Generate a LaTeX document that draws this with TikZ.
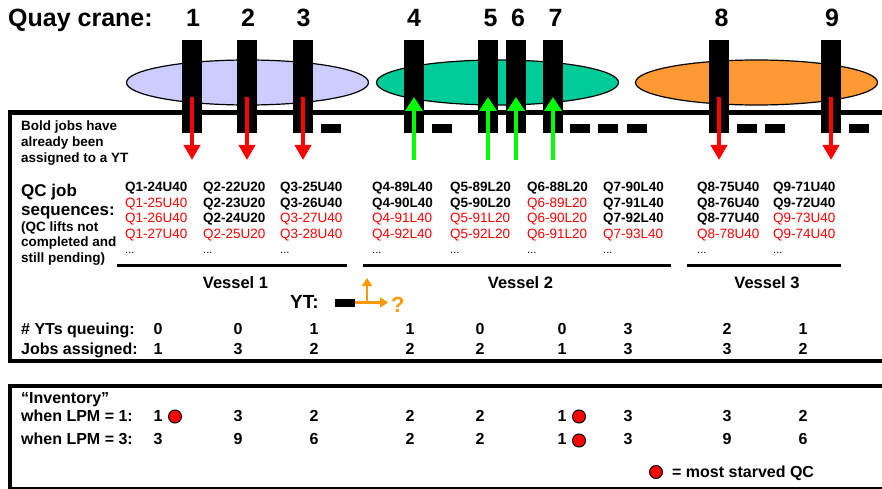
\documentclass[tikz,border=0pt]{standalone}
\usepackage{fontspec}
\setmainfont{Liberation Sans}
\usetikzlibrary{arrows.meta,shapes.geometric}
\definecolor{vlav}{HTML}{CCCCFF}
\definecolor{vgreen}{HTML}{00CC99}
\definecolor{vorange}{HTML}{FF9933}
\definecolor{ytorange}{HTML}{FF9900}
\definecolor{arrred}{HTML}{FF0000}
\definecolor{arrgreen}{HTML}{00FF00}
\newcommand\fsz[1]{\fontsize{#1}{#1}\selectfont}
\begin{document}
\begin{tikzpicture}[x=1pt,y=-1pt,
  lbl/.style={anchor=base west, inner sep=0pt, font=\bfseries\fsz{16}},
  num/.style={anchor=base, inner sep=0pt, font=\bfseries\fsz{16}},
  cnum/.style={anchor=base, inner sep=0pt, font=\bfseries\fsz{25}},
  jb/.style={anchor=base west, inner sep=0pt, font=\bfseries\fsz{13.5}},
  jr/.style={anchor=base west, inner sep=0pt, font=\fsz{13.5}, text=arrred},
  jdots/.style={anchor=base west, inner sep=0pt, font=\fsz{11}},
  note/.style={anchor=base west, inner sep=0pt, font=\bfseries\fsz{13.5}},
  vlbl/.style={anchor=base, inner sep=0pt, font=\bfseries\fsz{16.5}},
  bar/.style={fill=black, minimum width=20pt, minimum height=93pt, inner sep=0pt},
  slot/.style={fill=black, minimum width=20pt, minimum height=9pt, inner sep=0pt},
  ship/.style={ellipse, draw=black, line width=1.2pt, minimum width=242pt, minimum height=45pt, inner sep=0pt},
  redarr/.style={draw=arrred, line width=4.5pt, -{Triangle[width=16pt,length=15pt]}},
  grnarr/.style={draw=arrgreen, line width=4.8pt, -{Triangle[width=17pt,length=14pt]}},
  orarr/.style={draw=ytorange, line width=2.5pt, -{Triangle[width=10pt,length=8pt]}},
  frame/.style={line width=4pt},
  dot/.style={circle, draw=black, line width=1pt, fill=arrred, minimum size=13pt, inner sep=0pt}
]
\useasboundingbox (0,0) rectangle (882,489);

% title
\node[anchor=base west, inner sep=0pt, font=\bfseries\fsz{25}] (title) at (8,27) {Quay crane:};
\foreach \n/\x in {1/193,2/248,3/303.5,4/414,5/490.5,6/518,7/555.5,8/721.5,9/832}
  \node[cnum] (n\n) at (\x,27) {\n};

% vessels
\node[ship, fill=vlav] (v1) at (247.5,82.5) {};
\node[ship, fill=vgreen] (v2) at (497.5,82.5) {};
\node[ship, fill=vorange] (v3) at (756.5,82.5) {};

% frames
\draw[line width=4.5pt] (8,112.5) -- (882,112.5);
\draw[frame] (9.5,112.5) -- (9.5,361);
\draw[frame] (8,361) -- (882,361);
\draw[frame] (8,386) -- (882,386);
\draw[frame] (9.5,386) -- (9.5,488);
\draw[line width=1.2pt] (8,488) -- (882,488);

% crane bars
\foreach \n/\x in {1/192,2/247,3/303,4/414,5/488,6/516,7/553,8/719,9/831}{
  \node[bar] (c\n) at (\x,86.5) {};
  \coordinate (c\n top) at (\x,97);
  \coordinate (c\n bot) at (\x,160);
}
% slots
\foreach \i/\x in {1/331,2/442,3/580,4/608,5/637,6/747,7/775,8/859}
  \node[slot] (s\i) at (\x,128.5) {};

% arrows
\foreach \n in {1,2,3,8,9} \draw[redarr] (c\n top) -- (c\n bot);
\foreach \n in {4,5,6,7} \draw[grnarr] (c\n bot) -- (c\n top);

% notes
\node[note] (nt1) at (21,131) {Bold jobs have};
\node[note] (nt2) at (21,146.5) {already been};
\node[note] (nt3) at (21,162) {assigned to a YT};
\node[anchor=base west, inner sep=0pt, font=\bfseries\fsz{17}] (qc1) at (21,196) {QC job};
\node[anchor=base west, inner sep=0pt, font=\bfseries\fsz{17}] (qc2) at (21,215) {sequences:};
\node[note] (qc3) at (21,231) {(QC lifts not};
\node[note] (qc4) at (21,246.5) {completed and};
\node[note] (qc5) at (21,262) {still pending)};

% jobs (bold)
\foreach \nm/\x/\y/\t in {
  q11/125/191/Q1-24U40,
  q21/203/191/Q2-22U20, q22/203/207/Q2-23U20, q23/203/222.5/Q2-24U20,
  q31/280/191/Q3-25U40, q32/280/207/Q3-26U40,
  q41/372/191/Q4-89L40, q42/372/207/Q4-90L40,
  q51/450/191/Q5-89L20, q52/450/207/Q5-90L20,
  q61/527/191/Q6-88L20,
  q71/603/191/Q7-90L40, q72/603/207/Q7-91L40, q73/603/222.5/Q7-92L40,
  q81/697/191/Q8-75U40, q82/697/207/Q8-76U40, q83/697/222.5/Q8-77U40,
  q91/773/191/Q9-71U40, q92/773/207/Q9-72U40}
  \node[jb] (\nm) at (\x,\y) {\t};
% jobs (pending, red)
\foreach \nm/\x/\y/\t in {
  q12/125/207/Q1-25U40, q13/125/222.5/Q1-26U40, q14/125/238/Q1-27U40,
  q24/203/238/Q2-25U20,
  q33/280/222.5/Q3-27U40, q34/280/238/Q3-28U40,
  q43/372/222.5/Q4-91L40, q44/372/238/Q4-92L40,
  q53/450/222.5/Q5-91L20, q54/450/238/Q5-92L20,
  q62/527/207/Q6-89L20, q63/527/222.5/Q6-90L20, q64/527/238/Q6-91L20,
  q74/603/238/Q7-93L40,
  q84/697/238/Q8-78U40,
  q93/773/222.5/Q9-73U40, q94/773/238/Q9-74U40}
  \node[jr] (\nm) at (\x,\y) {\t};
\foreach \i/\x in {1/125,2/203,3/280,4/372,5/450,6/527,7/603,8/697,9/773}
  \node[jdots] (d\i) at (\x,253) {...};

% vessel underlines
\coordinate (u1a) at (117,265.5); \coordinate (u1b) at (347,265.5);
\coordinate (u2a) at (363,265.5); \coordinate (u2b) at (671,265.5);
\coordinate (u3a) at (687,265.5); \coordinate (u3b) at (841,265.5);
\draw[line width=3.8pt] (u1a) -- (u1b);
\draw[line width=3.8pt] (u2a) -- (u2b);
\draw[line width=3.8pt] (u3a) -- (u3b);
\node[vlbl] (vl1) at (235.5,288) {Vessel 1};
\node[vlbl] (vl2) at (520.5,288) {Vessel 2};
\node[vlbl] (vl3) at (767,288) {Vessel 3};

% YT
\node[anchor=base west, inner sep=0pt, font=\bfseries\fsz{19}] (ytl) at (290,308) {YT:};
\node[fill=black, minimum width=20pt, minimum height=8pt, inner sep=0pt] (yt) at (345,302.5) {};
\coordinate (ytj) at (367,302.5);
\coordinate (ytup) at (367,278);
\coordinate (ytr) at (388,302.5);
\draw[orarr] (yt.east) -- (ytr);
\draw[orarr] (ytj) -- (ytup);
\node[anchor=base west, inner sep=0pt, font=\bfseries\fsz{22}, text=ytorange] (qm) at (391,312) {?};

% rows
\node[lbl] (rq) at (21,334) {\# YTs queuing:};
\node[lbl] (rj) at (21,354) {Jobs assigned:};
\node[lbl] (ri) at (21,403) {“Inventory”};
\node[lbl] (r1) at (21,421) {when LPM = 1:};
\node[lbl] (r3) at (21,444) {when LPM = 3:};
\foreach \i/\x/\a/\b/\c/\d in {
  1/158/0/1/1/3, 2/238/0/3/3/9, 3/314/1/2/2/6, 4/410/1/2/2/2, 5/480/0/2/2/2,
  6/562/0/1/1/1, 7/628/3/3/3/3, 8/727/2/3/3/9, 9/803/1/2/2/6}{
  \node[num] (a\i) at (\x,334) {\a};
  \node[num] (b\i) at (\x,354) {\b};
  \node[num] (l\i) at (\x,421) {\c};
  \node[num] (m\i) at (\x,444) {\d};
}
\node[dot] (st1) at (175,416.5) {};
\node[dot] (st2) at (579,416.5) {};
\node[dot] (st3) at (579,440.5) {};
\node[dot] (lg) at (656,472) {};
\node[lbl] (lgt) at (672,477) {= most starved QC};
\end{tikzpicture}
\end{document}
